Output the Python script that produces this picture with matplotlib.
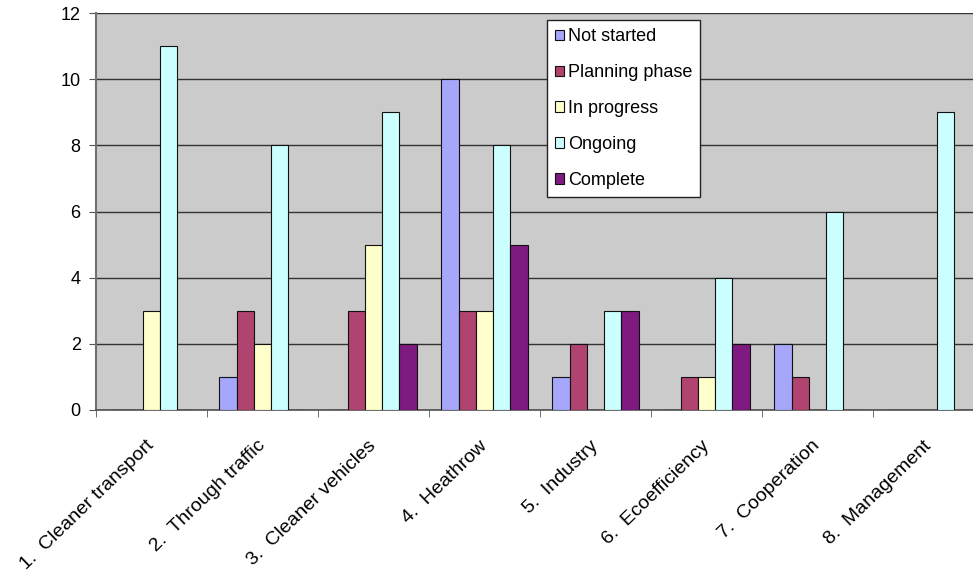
import numpy as np
import matplotlib
matplotlib.use('Agg')
import matplotlib.pyplot as plt

plt.rcParams['font.family'] = ['Liberation Sans', 'DejaVu Sans']

# categories and counts per status
categories = ['1.  Cleaner transport', '2.  Through traffic', '3.  Cleaner vehicles',
              '4.  Heathrow', '5.  Industry', '6.  Ecoefficiency',
              '7.  Cooperation', '8.  Management']
not_started = [0, 1, 0, 10, 1, 0, 2, 0]
planning = [0, 3, 3, 3, 2, 1, 1, 0]
in_progress = [3, 2, 5, 3, 0, 1, 0, 0]
ongoing = [11, 8, 9, 8, 3, 4, 6, 9]
complete = [0, 0, 2, 5, 3, 2, 0, 0]

series = [not_started, planning, in_progress, ongoing, complete]
names = ['Not started', 'Planning phase', 'In progress', 'Ongoing', 'Complete']
colors = ['#A6A6FA', '#B0436F', '#FFFFCC', '#CCFFFF', '#7F1A80']

fig = plt.figure(figsize=(9.73, 5.73), dpi=100)
ax = fig.add_axes([96/973, 1 - 410/573, 888/973, 397/573])
ax.set_facecolor('#CBCBCB')

x = np.arange(len(categories)) + 0.5
w = 0.156
for i, vals in enumerate(series):
    ax.bar(x + (i - 2) * w, vals, width=w, color=colors[i], edgecolor='#111111',
           linewidth=0.8, label=names[i], zorder=3)

ax.set_xlim(0, 8)
ax.set_ylim(0, 12)
ax.set_yticks(range(0, 13, 2))
ax.yaxis.grid(True, color='#333333', linewidth=1, zorder=1)
ax.set_axisbelow(True)

ax.set_xticks(x)
ax.set_xticklabels(categories, rotation=44, ha='right', va='center',
                   rotation_mode='anchor', fontsize=14)
ax.set_xticks(np.arange(0, 9), minor=True)
ax.tick_params(axis='x', which='major', length=0, pad=24)
ax.tick_params(axis='x', which='minor', length=5, color='#555555')
ax.tick_params(axis='y', length=5, color='#555555', labelsize=13, pad=6)

for s in ['top', 'right']:
    ax.spines[s].set_visible(False)
ax.spines['left'].set_color('#707070')
ax.spines['left'].set_linewidth(1.5)
ax.spines['bottom'].set_color('#505050')
ax.spines['bottom'].set_linewidth(1.2)

fig.legend(loc='upper left', bbox_to_anchor=(547/973, 1 - 20/573),
           fontsize=13, frameon=True, fancybox=False, edgecolor='#222222',
           framealpha=1, handlelength=0.5, handleheight=0.5,
           handletextpad=0.2, labelspacing=1.05, borderpad=0.45,
           borderaxespad=0)

fig.savefig('out.png', dpi=100)
